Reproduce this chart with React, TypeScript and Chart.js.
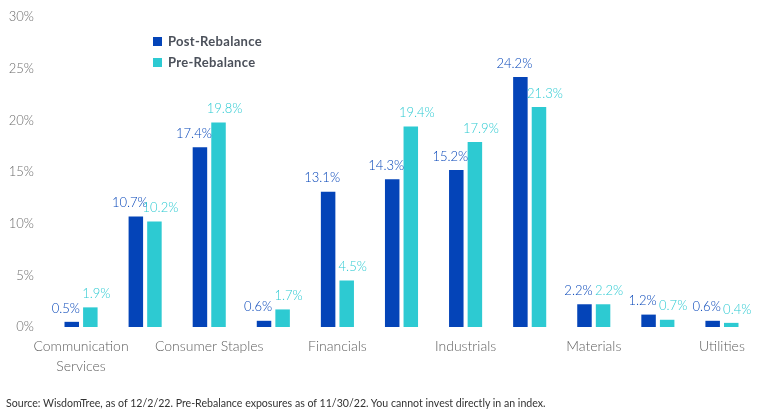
import React, { useEffect, useRef } from "react";
import { Chart, registerables } from "chart.js";

Chart.register(...registerables);

const categories = [
  "Communication Services",
  "Consumer Discretionary",
  "Consumer Staples",
  "Energy",
  "Financials",
  "Health Care",
  "Industrials",
  "Information Technology",
  "Materials",
  "Real Estate",
  "Utilities",
];
const postRebalance = [0.5, 10.7, 17.4, 0.6, 13.1, 14.3, 15.2, 24.2, 2.2, 1.2, 0.6];
const preRebalance = [1.9, 10.2, 19.8, 1.7, 4.5, 19.4, 17.9, 21.3, 2.2, 0.7, 0.4];
const seriesNames = ["Post-Rebalance", "Pre-Rebalance"];
const seriesColors = ["#0444B8", "#2DCAD2"];
const sourceNote =
  "Source: WisdomTree, as of 12/2/22. Pre-Rebalance exposures as of 11/30/22. You cannot invest directly in an index.";

const FONT = "Lato, 'Noto Sans', sans-serif";

const valueLabels = {
  id: "valueLabels",
  afterDatasetsDraw(chart: any) {
    const ctx = chart.ctx;
    ctx.save();
    ctx.font = `300 13px ${FONT}`;
    ctx.textAlign = "center";
    ctx.textBaseline = "bottom";
    chart.data.datasets.forEach((ds: any, di: number) => {
      const meta = chart.getDatasetMeta(di);
      ctx.fillStyle = seriesColors[di];
      meta.data.forEach((bar: any, i: number) => {
        const shift = di === 0 ? -6 : 6;
        ctx.fillText(ds.data[i].toFixed(1) + "%", bar.x + shift, bar.y - 7);
      });
    });
    ctx.restore();
  },
};

function splitLabel(s: string): string | string[] {
  if (s === "Communication Services") return ["Communication", "Services"];
  return s;
}

export default function App() {
  const ref = useRef<HTMLCanvasElement>(null);
  useEffect(() => {
    if (!ref.current) return;
    const chart = new Chart(ref.current, {
      type: "bar",
      data: {
        labels: categories,
        datasets: [
          {
            label: seriesNames[0],
            data: postRebalance,
            backgroundColor: seriesColors[0],
            categoryPercentage: 0.58,
            barPercentage: 0.78,
          },
          {
            label: seriesNames[1],
            data: preRebalance,
            backgroundColor: seriesColors[1],
            categoryPercentage: 0.58,
            barPercentage: 0.78,
          },
        ],
      },
      options: {
        responsive: false,
        animation: false,
        layout: { padding: { left: 8, right: 14, top: 17, bottom: 0 } },
        plugins: {
          legend: { display: false },
          tooltip: { enabled: false },
        },
        scales: {
          x: {
            grid: { display: false, drawTicks: false },
            border: { display: false },
            ticks: {
              autoSkip: false,
              maxRotation: 0,
              minRotation: 0,
              padding: 9,
              color: "#5f5f5f",
              font: { family: FONT, size: 14, weight: "300" as any, lineHeight: 1.45 },
              callback: (_v: any, i: number) => (i % 2 === 0 ? splitLabel(categories[i]) : ""),
            },
            afterFit: (scale: any) => {
              scale.height = 91;
              scale.paddingLeft = 0;
              scale.paddingRight = 0;
            },
          },
          y: {
            min: 0,
            max: 30,
            grid: { display: false, drawTicks: false },
            border: { display: false },
            ticks: {
              stepSize: 5,
              padding: 15,
              color: "#6a6a6a",
              font: { family: FONT, size: 13, weight: "300" as any },
              callback: (v: any) => v + "%",
            },
            afterFit: (scale: any) => {
              scale.width = 41;
              scale.paddingTop = 0;
              scale.paddingBottom = 0;
            },
          },
        },
      },
      plugins: [valueLabels],
    });
    return () => chart.destroy();
  }, []);

  return (
    <div style={{ position: "absolute", left: 0, top: 0, width: 768, height: 418, background: "#fff", overflow: "hidden" }}>
      <canvas ref={ref} width={768} height={418} style={{ position: "absolute", left: 0, top: 0 }} />
      {seriesNames.map((name, i) => (
        <div
          key={name}
          style={{
            position: "absolute",
            left: 153,
            top: 33 + i * 21,
            height: 16,
            display: "flex",
            alignItems: "center",
            fontFamily: FONT,
            fontWeight: 700,
            fontSize: 13,
            color: "#4b505a",
            letterSpacing: 0.3,
          }}
        >
          <span style={{ display: "inline-block", width: 9, height: 9, background: seriesColors[i], marginRight: 6 }} />
          {name}
        </div>
      ))}
      <div
        style={{
          position: "absolute",
          left: 6,
          top: 397,
          fontFamily: FONT,
          fontSize: 10.6,
          color: "#333",
          whiteSpace: "nowrap",
        }}
      >
        {sourceNote}
      </div>
    </div>
  );
}
